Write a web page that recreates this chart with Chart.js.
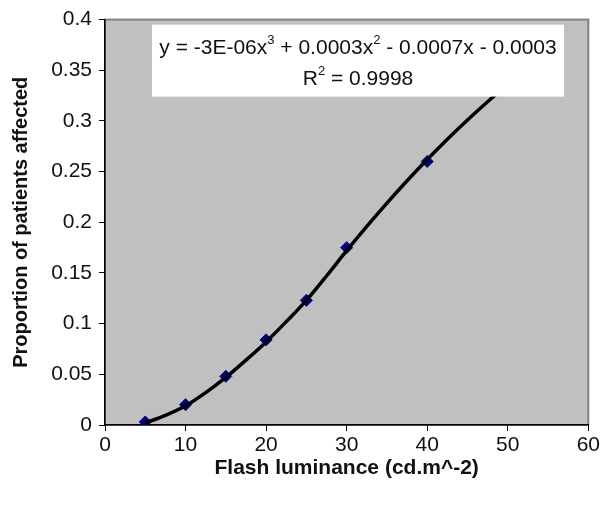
<!DOCTYPE html>
<html>
<head>
<meta charset="utf-8">
<script src="https://cdn.jsdelivr.net/npm/chart.js@4"></script>
<style>
  html, body { margin: 0; padding: 0; background: #fff; }
  #wrap { width: 602px; height: 509px; }
</style>
</head>
<body>
<div id="wrap"><canvas id="chart"></canvas></div>
<script>
// measured points
const luminance = [5, 10, 15, 20, 25, 30, 40];
const proportion = [0.003, 0.02, 0.048, 0.084, 0.123, 0.175, 0.26];

// trendline
const trendX = [5, 7.5, 10, 12.5, 15, 17.5, 20, 22.5, 25, 27.5, 30, 32.5, 35, 37.5, 40, 42.5, 45, 47.5, 50];
const trendY = [0.002, 0.0095, 0.019, 0.032, 0.047, 0.064, 0.082, 0.102, 0.123, 0.147, 0.172,
                0.196, 0.219, 0.241, 0.262, 0.282, 0.301, 0.319, 0.336];

const xTicks = [0, 10, 20, 30, 40, 50, 60];
const yTicks = [0, 0.05, 0.1, 0.15, 0.2, 0.25, 0.3, 0.35, 0.4];

const eqLine1 = ["y = -3E-06x", "3", " + 0.0003x", "2", " - 0.0007x - 0.0003"];
const eqLine2 = ["R", "2", " = 0.9998"];

const FONT = "'Liberation Sans', Arial, sans-serif";
const SIZE = 21;

const plotBg = {
  id: "plotBg",
  beforeDraw(chart) {
    const { ctx, chartArea: a } = chart;
    ctx.save();
    ctx.fillStyle = "#c0c0c0";
    ctx.fillRect(a.left, a.top, a.right - a.left, a.bottom - a.top);
    ctx.strokeStyle = "#808080";
    ctx.lineWidth = 2;
    ctx.strokeRect(a.left, a.top, a.right - a.left, a.bottom - a.top);
    ctx.restore();
  },
};

// pieces alternate: normal text, superscript, normal text...
function drawRich(ctx, parts, cx, y, size) {
  const big = size + "px " + FONT;
  const small = Math.round(size * 0.6) + "px " + FONT;
  let w = 0;
  parts.forEach((p, i) => {
    ctx.font = i % 2 ? small : big;
    w += ctx.measureText(p).width;
  });
  let x = cx - w / 2;
  parts.forEach((p, i) => {
    ctx.font = i % 2 ? small : big;
    ctx.fillText(p, x, i % 2 ? y - size * 0.45 : y);
    x += ctx.measureText(p).width;
  });
}

const eqBox = {
  id: "eqBox",
  afterDatasetsDraw(chart) {
    const { ctx, chartArea: a } = chart;
    const left = a.left + 47, top = a.top + 5, w = 412, h = 72;
    ctx.save();
    ctx.fillStyle = "#fff";
    ctx.fillRect(left, top, w, h);
    ctx.fillStyle = "#111";
    ctx.textBaseline = "alphabetic";
    drawRich(ctx, eqLine1, left + w / 2, top + 29, SIZE);
    drawRich(ctx, eqLine2, left + w / 2, top + 60, SIZE);
    ctx.restore();
  },
};

new Chart(document.getElementById("chart"), {
  type: "scatter",
  data: {
    datasets: [
      {
        label: "Poly. trend",
        data: trendX.map((x, i) => ({ x, y: trendY[i] })),
        showLine: true,
        borderColor: "#000",
        borderWidth: 3.5,
        pointRadius: 0,
        cubicInterpolationMode: "monotone",
      },
      {
        label: "Patients",
        data: luminance.map((x, i) => ({ x, y: proportion[i] })),
        pointStyle: "rectRot",
        pointRadius: 6,
        backgroundColor: "#000080",
        borderColor: "#000080",
        borderWidth: 1,
      },
    ],
  },
  options: {
    responsive: true,
    maintainAspectRatio: false,
    animation: false,
    layout: { padding: { top: 17, right: 11, left: 0, bottom: 0 } },
    plugins: { legend: { display: false }, tooltip: { enabled: false } },
    scales: {
      x: {
        type: "linear",
        min: 0,
        max: 60,
        afterFit: s => { s.height = 84; },
        afterBuildTicks: s => { s.ticks = xTicks.map(v => ({ value: v })); },
        grid: { drawOnChartArea: false, color: "#000", tickLength: 6 },
        border: { color: "#000", width: 1.5 },
        ticks: { color: "#111", font: { family: FONT, size: SIZE }, padding: 2 },
        title: {
          display: true,
          text: "Flash luminance (cd.m^-2)",
          color: "#111",
          font: { family: FONT, size: SIZE, weight: "bold" },
          padding: { bottom: 28 },
        },
      },
      y: {
        type: "linear",
        min: 0,
        max: 0.4,
        afterFit: s => { s.width = 105; },
        afterBuildTicks: s => { s.ticks = yTicks.map(v => ({ value: v })); },
        grid: { drawOnChartArea: false, color: "#000", tickLength: 6 },
        border: { color: "#000", width: 1.5 },
        ticks: {
          color: "#111",
          font: { family: FONT, size: SIZE },
          padding: 7,
          callback: v => String(+v.toFixed(2)),
        },
        title: {
          display: true,
          text: "Proportion of patients affected",
          color: "#111",
          font: { family: FONT, size: SIZE - 1, weight: "bold" },
          padding: { top: 9 },
        },
      },
    },
  },
  plugins: [plotBg, eqBox],
});
</script>
</body>
</html>
